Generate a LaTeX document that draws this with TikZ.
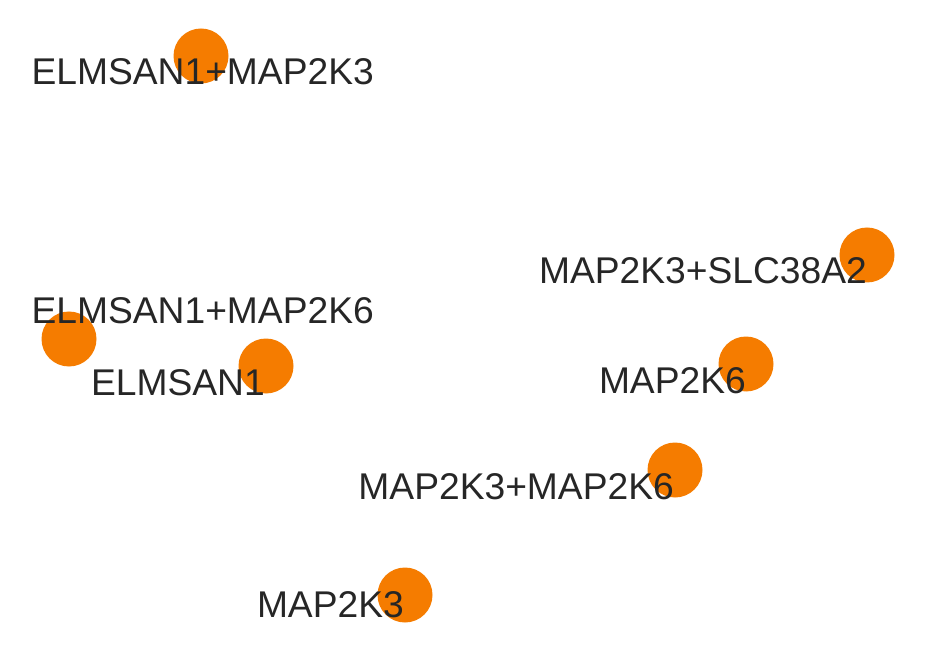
\documentclass[tikz,border=0pt]{standalone}
\usepackage{fontspec}
\setmainfont{Liberation Sans}
\usetikzlibrary{positioning}
\definecolor{dotorange}{RGB}{245,124,0}
\definecolor{labelgray}{RGB}{38,38,38}
\tikzset{
  gene/.style={circle,fill=dotorange,inner sep=0pt,minimum size=55pt},
  genelabel/.style={anchor=north east,inner sep=0pt,text=labelgray,font=\fontsize{37.2}{40}\selectfont}
}
\begin{document}
\begin{tikzpicture}[x=1pt,y=-1pt]
\useasboundingbox (0,0) rectangle (937,652);
% points
\node[gene] (em3) at (201,56) {};
\node[gene] (m3slc) at (867,255) {};
\node[gene] (em6) at (69,339) {};
\node[gene] (elm) at (266,366) {};
\node[gene] (m6) at (746,364) {};
\node[gene] (m3m6) at (675,470) {};
\node[gene] (m3) at (405,595) {};
% labels
\node[genelabel] (em3label) at (374,58) {ELMSAN1+MAP2K3};
\node[genelabel] (m3slclabel) at ([yshift=-2pt]m3slc.center) {MAP2K3+SLC38A2};
\node[genelabel] (em6label) at (374,297) {ELMSAN1+MAP2K6};
\node[genelabel] (elmlabel) at ([xshift=-1pt,yshift=-3.3pt]elm.center) {ELMSAN1};
\node[genelabel] (m6label) at ([yshift=-3.7pt]m6.center) {MAP2K6};
\node[genelabel] (m3m6label) at ([xshift=-1pt,yshift=-3.7pt]m3m6.center) {MAP2K3+MAP2K6};
\node[genelabel] (m3label) at ([xshift=-1pt,yshift=3.7pt]m3.center) {MAP2K3};
\end{tikzpicture}
\end{document}
